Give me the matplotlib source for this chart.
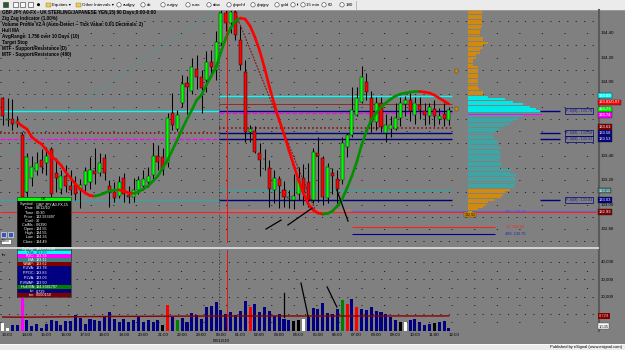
import matplotlib
matplotlib.use("Agg")
import matplotlib.pyplot as plt
import matplotlib.transforms as mtransforms
from matplotlib.collections import LineCollection
from matplotlib.patches import Rectangle, Circle
import numpy as np

plt.rcParams['font.family'] = ['Liberation Sans', 'DejaVu Sans']

# ---------------- data (15-min bars, 12:45 -> 11:45) ----------------
bar_open = [133.87, 133.69, 133.70, 133.66, 133.57, 133.10, 133.22, 133.27, 133.36, 133.34,
            133.45, 133.26, 133.13, 133.23, 133.15, 133.16, 133.12, 133.16, 133.18, 133.27,
            133.26, 133.38, 133.15, 133.10, 133.07, 133.22, 133.08, 133.06, 133.12, 133.15,
            133.18, 133.24, 133.40, 133.39, 133.34, 133.75, 133.62, 133.83, 133.99, 133.93,
            134.11, 134.04, 134.02, 134.16, 134.10, 134.32, 134.56, 134.48, 134.57, 134.34,
            134.08, 133.59, 133.60, 133.42, 133.372, 133.30, 133.12, 133.21, 133.12, 133.05,
            133.04, 133.09, 133.22, 133.18, 133.04, 133.42, 133.38, 133.05, 133.26, 133.21,
            133.20, 133.47, 133.57, 133.73, 133.84, 134.00, 133.87, 133.67, 133.83, 133.58,
            133.62, 133.62, 133.71, 133.82, 133.85, 133.73, 133.81, 133.76, 133.72, 133.78,
            133.70, 133.74, 133.69]
bar_high = [133.88, 133.87, 133.86, 133.72, 133.59, 133.42, 133.40, 133.43, 133.45, 133.47,
            133.47, 133.38, 133.28, 133.32, 133.28, 133.23, 133.21, 133.31, 133.39, 133.46,
            133.42, 133.41, 133.20, 133.18, 133.23, 133.26, 133.15, 133.22, 133.23, 133.28,
            133.31, 133.50, 133.49, 133.46, 133.75, 133.91, 133.77, 134.06, 134.05, 134.20,
            134.22, 134.10, 134.25, 134.26, 134.42, 134.62, 134.59, 134.62, 134.62, 134.46,
            134.18, 133.65, 133.64, 133.50, 133.45, 133.36, 133.28, 133.23, 133.19, 133.12,
            133.25, 133.31, 133.33, 133.34, 133.46, 133.55, 133.40, 133.34, 133.30, 133.28,
            133.55, 133.58, 133.96, 133.96, 134.13, 134.07, 133.93, 133.88, 133.88, 133.74,
            133.72, 133.83, 133.88, 133.89, 133.91, 133.88, 133.88, 133.83, 133.83, 133.85,
            133.79, 133.83, 133.80]
bar_low = [133.65, 133.64, 133.61, 133.63, 133.02, 133.03, 133.15, 133.24, 133.26, 133.24,
           133.06, 133.10, 133.09, 133.10, 133.08, 133.04, 132.97, 133.11, 133.13, 133.17,
           133.23, 133.20, 132.98, 133.02, 133.05, 133.02, 133.01, 133.02, 133.09, 133.12,
           133.14, 133.21, 133.28, 133.24, 133.31, 133.61, 133.60, 133.80, 133.74, 133.90,
           133.94, 133.75, 133.92, 134.06, 134.02, 134.30, 134.42, 134.40, 134.34, 134.10,
           133.51, 133.51, 133.42, 133.23, 133.28, 132.98, 133.01, 132.97, 132.98, 132.97,
           132.96, 133.04, 133.00, 132.98, 133.01, 133.02, 133.00, 133.01, 133.09, 132.98,
           133.17, 133.39, 133.55, 133.72, 133.83, 133.85, 133.59, 133.61, 133.59, 133.51,
           133.55, 133.61, 133.64, 133.72, 133.68, 133.66, 133.70, 133.65, 133.66, 133.64,
           133.66, 133.64, 133.65]
bar_close = [133.72, 133.70, 133.66, 133.68, 133.06, 133.39, 133.31, 133.34, 133.31, 133.40,
             133.09, 133.22, 133.23, 133.15, 133.12, 133.09, 133.16, 133.27, 133.28, 133.25,
             133.34, 133.26, 133.10, 133.05, 133.18, 133.09, 133.06, 133.12, 133.20, 133.21,
             133.23, 133.40, 133.35, 133.28, 133.71, 133.65, 133.73, 133.98, 133.96, 134.12,
             134.04, 133.95, 134.16, 134.12, 134.33, 134.56, 134.48, 134.57, 134.38, 134.14,
             133.59, 133.62, 133.43, 133.36, 133.368, 133.13, 133.22, 133.15, 133.06, 133.06,
             133.07, 133.22, 133.10, 133.04, 133.43, 133.40, 133.06, 133.31, 133.23, 133.13,
             133.50, 133.57, 133.77, 133.87, 134.04, 133.92, 133.67, 133.83, 133.63, 133.65,
             133.65, 133.71, 133.83, 133.85, 133.76, 133.83, 133.77, 133.73, 133.80, 133.72,
             133.72, 133.70, 133.77]
hull_ma = [np.nan, np.nan, np.nan,
           133.673, 133.641, 133.616, 133.551, 133.518, 133.494, 133.445, 133.396, 133.363,
           133.322, 133.265, 133.216, 133.167, 133.127, 133.094, 133.073, 133.069, 133.078,
           133.094, 133.110, 133.118, 133.119, 133.110, 133.094, 133.092, 133.102, 133.127,
           133.151, 133.192, 133.233, 133.298, 133.363, 133.445, 133.527, 133.616, 133.698,
           133.771, 133.853, 133.894, 133.976, 134.049, 134.122, 134.245, 134.359, 134.441,
           134.498, 134.522, 134.514, 134.457, 134.367, 134.253, 134.114, 133.959, 133.820,
           133.690, 133.576, 133.445, 133.322, 133.200, 133.094, 133.004, 132.955, 132.931,
           132.922, 132.927, 132.947, 132.988, 133.045, 133.135, 133.233, 133.347, 133.486,
           133.600, 133.690, 133.747, 133.796, 133.829, 133.861, 133.886, 133.902, 133.910,
           133.918, 133.922, 133.923, 133.918, 133.910, 133.894, 133.869, 133.845, 133.820]
volume = [4600, 1700, 3500, 3500, 19100, 6400, 2900, 4100, 1700, 4100,
          6400, 5800, 3500, 5800, 5800, 9300, 7500, 4100, 7000, 6400,
          5800, 8700, 11000, 7000, 5200, 7000, 5200, 6400, 8100, 5200,
          6400, 5200, 6400, 3500, 15100, 8100, 6400, 7500, 5200, 10400,
          9300, 7000, 13900, 14500, 16800, 12200, 9900, 11000, 9300, 11600,
          17400, 13900, 15700, 11000, 13900, 11600, 8700, 9900, 7000, 6400,
          5800, 6400, 7000, 8100, 13300, 12800, 16200, 10400, 9900, 12800,
          18000, 15700, 18600, 13900, 12800, 12200, 13900, 11600, 11000, 9900,
          8100, 6400, 5200, 5200, 6400, 7000, 5200, 3500, 4100, 4600,
          5200, 5800, 1535]
volume_kind = ("wwnnmnnnnn" "nnnnnnnnnn" "nnnnnnnnnn" "nnnkrngnnn"
               "nnnnnnnnnnn" "rnnnnnnnnk" "kwnnnnnnng" "rnrnnnnnnn"
               "nkwnnnnnkn" "nnw")
vol_avg_bars = [0, 5, 20, 45, 70, 92]
vol_avg_vals = [8100, 8000, 8400, 8700, 8700, 8729]
time_labels = ['13:00', '14:00', '15:00', '16:00', '17:00', '18:00', '19:00', '20:00',
               '21:00', '22:00', '23:00', '00:00', '01:00', '02:00', '03:00', '04:00',
               '05:00', '06:00', '07:00', '08:00', '09:00', '10:00', '11:00', '12:00']

profile_top, profile_step = 134.58, 0.02
profile_volume = [14, 14, 14, 14, 14, 14, 14, 13, 12, 12,
                  12, 15, 15, 20, 15, 15, 12, 12, 8, 8,
                  5, 5, 5, 10, 10, 10, 10, 10, 10, 10,
                  10, 10, 11, 15, 15, 20, 37, 45, 55, 62,
                  68, 72, 73, 55, 50, 45, 42, 37, 32, 28,
                  26, 25, 26, 30, 29, 30, 33, 31, 33, 32,
                  33, 31, 33, 33, 32, 43, 42, 48, 47, 48,
                  48, 47, 46, 42, 37, 35, 33, 27, 20, 18,
                  15, 10, 4]
va_high, poc, va_low = 133.89, 133.745, 133.13

prev_levels = [133.763, 133.584, 133.535, 133.037]
cur_levels = [133.886, 133.820, 133.763, 133.747, 133.624, 133.584, 133.535, 133.118, 133.037]
sr_levels = [133.763, 133.584, 133.535, 133.037]
sr_texts = ['P-S(M) : 133.78', 'P-S(M) : 133.58', 'P-S(M) : 133.53', 'P-S(M) : 133.03']
support_480, support_d, support_480b = 132.939, 132.82, 132.76
target_stops = [134.09, 133.78]
zigzag_up = ([0.5, 45.2], [133.40, 134.62])
zigzag_down = ([47.5, 64.5], [134.61, 132.95])
drawn_segments = [((54.3, 132.80), (57.4, 132.873)),
                  ((58.8, 132.833), (63.8, 132.971)),
                  ((68.9, 133.118), (71.2, 132.865))]
vol_segments = [((58.0, 22000), (58.0, 8100)),
                ((61.5, 27800), (63.0, 8100)),
                ((66.9, 25500), (68.9, 13900))]
cursor_bar = 46.3
session_bar = 44.5
price_ticks = [132.80, 133.00, 133.20, 133.40, 134.00, 134.20, 134.40]
volume_ticks = [20000, 30000, 40000]
axis_labels = [(133.89, '133.89', '#00ffff', 'white'),
               (133.833, '133.83/0.07', '#ff0000', 'white'),
               (133.776, '133.77', '#00ff00', 'white'),
               (133.73, '133.74', '#ff00ff', 'white'),
               (133.633, '133.63', '#800000', 'white'),
               (133.584, '133.58', '#000080', 'white'),
               (133.535, '133.53', '#000080', 'white'),
               (133.114, '133.11', '#408080', 'white'),
               (133.037, '133.03', '#000080', 'white'),
               (132.939, '132.93', '#800000', 'white')]

# ---------------- figure ----------------
W, H = 625, 350
BG = '#808080'
fig = plt.figure(figsize=(6.25, 3.5), dpi=100)
fig.patch.set_facecolor(BG)


def rect(x0, y0, x1, y1):
    return [x0 / W, 1 - y1 / H, (x1 - x0) / W, (y1 - y0) / H]


n = len(bar_open)
xs = np.arange(n)
o = np.array(bar_open); c = np.array(bar_close)
hi = np.array(bar_high); lo = np.array(bar_low)
XL = (-2.7 / 4.85, (597 - 2.7) / 4.85)
FS = 3.2

ax = fig.add_axes(rect(0, 10, 597, 243), zorder=1)
ax.set_facecolor(BG)
ax.set_xlim(*XL)
ax.set_ylim(132.686, 134.588)
ax.axis('off')

# grid
for k, g in enumerate(np.arange(132.70, 134.55, 0.10)):
    dense = (k % 2 == 0)
    ax.axhline(g, color='#222222', lw=0.7,
               dashes=(1.2, 7.5) if dense else (1.2, 22), zorder=1)
ax.axvline(session_bar, color='#3a3a3a', lw=0.6, dashes=(2, 2), zorder=1)

# previous session levels
pl_style = [('#00ffff', '-', 1.0), ('#8b0000', ':', 1.1), ('#ff00ff', '--', 0.9), ('#40a0a0', '-', 1.0)]
for lev, (col, ls, lw) in zip(prev_levels, pl_style):
    ax.hlines(lev, XL[0], session_bar, colors=col, linestyles=ls, lw=lw, zorder=2)
cl_style = [('#00ffff', '-', 1.0), ('#8b2020', '-', 0.6), ('#000080', '-', 1.0),
            ('#ff00ff', '--', 0.9), ('#8b0000', ':', 1.1), ('#000080', '-', 1.0),
            ('#000080', '-', 1.0), ('#40a0a0', '-', 1.0), ('#000080', '-', 1.0)]
for lev, (col, ls, lw) in zip(cur_levels, cl_style):
    ax.hlines(lev, session_bar, n - 0.4, colors=col, linestyles=ls, lw=lw, zorder=2)

ax.hlines(support_480, XL[0], XL[1], colors='#ff2020', lw=0.8, zorder=2)
ax.hlines(132.955, session_bar, 71.9, colors='#a07a7a', lw=2.2, zorder=2)
ax.hlines(132.948, 71.9, XL[1], colors='#7060c0', lw=0.8, zorder=2)
ax.hlines(support_d, 72.0, 101.5, colors='#ff2020', lw=0.8, zorder=2)
ax.hlines(support_480b, 72.0, 101.5, colors='#000090', lw=0.8, zorder=2)
for lev in sr_levels:
    ax.hlines(lev, 110.8, 114.9, colors='#000080', lw=1.0, zorder=2)

# zigzag
ax.plot(*zigzag_up, color='#3aa0a0', lw=0.8, ls=':', zorder=3)
ax.plot(*zigzag_down, color='#8b1a1a', lw=0.9, dashes=(1.5, 1.0), zorder=3)

# candles
ax.vlines(xs, lo, hi, color='black', lw=0.75, zorder=4)
up = c >= o
ax.bar(xs, np.maximum(np.abs(c - o), 0.006), bottom=np.minimum(o, c), width=0.62,
       color=np.where(up, '#00ff00', '#ff0000'), edgecolor='black', lw=0.3, zorder=5)

# hull ma
hm = np.array(hull_ma)
pts = np.column_stack([xs, hm])
segs = np.stack([pts[:-1], pts[1:]], axis=1)
valid = ~np.isnan(segs).any(axis=(1, 2))
segs = segs[valid]
cols = np.where(segs[:, 1, 1] >= segs[:, 0, 1], '#009000', '#ff0000')
ax.add_collection(LineCollection(segs, colors=cols, lw=1.9, zorder=6, capstyle='round'))

for (a, b) in drawn_segments:
    ax.plot([a[0], b[0]], [a[1], b[1]], color='black', lw=0.9, zorder=6)

ax.axvline(cursor_bar, color='#ff0000', lw=0.6, zorder=7)

# target stop markers
ax.bar([93.6] * len(target_stops), [0.04] * len(target_stops),
       bottom=np.array(target_stops) - 0.02, width=0.6, color='#d08a10',
       edgecolor='#604000', lw=0.3, zorder=6)
ax.text(96.4, 132.915, '132.92', fontsize=2.6, color='black', ha='center', va='center', zorder=8,
        bbox=dict(boxstyle='square,pad=0.15', fc='#d08a10', ec='#604000', lw=0.3))
ax.text(103.5, support_480, '480: 132.93', fontsize=2.8, color='#5050c0', va='center', zorder=8)
ax.text(104.0, support_d, 'D: 132.82', fontsize=2.8, color='#ff2020', va='center', zorder=8)
ax.text(103.5, support_480b, '480: 132.75', fontsize=2.8, color='#2020b0', va='center', zorder=8)

# volume profile
pax = fig.add_axes(rect(468, 10, 597, 243), zorder=2)
pax.set_xlim(0, 129)
pax.set_ylim(132.686, 134.588)
pax.axis('off')
pax.patch.set_alpha(0)
pprices = profile_top - profile_step * np.arange(len(profile_volume))
pcols = []
for p in pprices:
    if p > va_high + 1e-6 or p < va_low - 1e-6:
        pcols.append('#d08a10')
    elif p >= poc - 1e-6:
        pcols.append('#00e8e8')
    else:
        pcols.append('#40a4a4')
pax.barh(pprices, profile_volume, height=profile_step * 0.8, color=pcols, lw=0)
pax.barh([poc - 0.008], [max(profile_volume) + 1], height=0.006, color='#ff00ff', lw=0)

# volume panel
vax = fig.add_axes(rect(0, 250, 597, 331), zorder=1)
vax.set_facecolor(BG)
vax.set_xlim(*XL)
vax.set_ylim(0, 46957)
for s in vax.spines.values():
    s.set_visible(False)
vax.set_yticks([])
for g in [5000, 10000, 15000, 20000, 25000, 30000, 35000, 40000]:
    vax.axhline(g, color='#222222', lw=0.7,
                dashes=(1.2, 7.5) if g % 10000 == 0 else (1.2, 22), zorder=1)
vax.axvline(session_bar, color='#3a3a3a', lw=0.6, dashes=(2, 2), zorder=1)
kind_col = {'n': '#000080', 'w': '#ffffff', 'k': '#000000', 'r': '#ff0000',
            'g': '#008000', 'm': '#ff00ff'}
vax.bar(xs, volume, width=0.62, color=[kind_col[k] for k in volume_kind], lw=0, zorder=3)
vax.plot(vol_avg_bars, vol_avg_vals, color='#8b0000', lw=1.0, zorder=4)
for (a, b) in vol_segments:
    vax.plot([a[0], b[0]], [a[1], b[1]], color='black', lw=0.9, zorder=5)
vax.axvline(cursor_bar, color='#ff0000', lw=0.6, zorder=6)
vax.set_xticks(np.arange(1, n + 1, 4))
vax.set_xticklabels(time_labels, fontsize=FS)
vax.tick_params(axis='x', length=0, pad=1.2, colors='black')

# ---------------- overlay UI ----------------
ov = fig.add_axes([0, 0, 1, 1], zorder=10)
ov.set_xlim(0, W)
ov.set_ylim(H, 0)
ov.axis('off')
ov.patch.set_alpha(0)
tr_p = mtransforms.blended_transform_factory(ov.transData, ax.transData)
tr_v = mtransforms.blended_transform_factory(ov.transData, vax.transData)
tr_x = mtransforms.blended_transform_factory(vax.transData, ov.transData)

# toolbar
ov.add_patch(Rectangle((0, 0), W, 9.5, fc='#ebebeb', ec='none'))
ov.plot([0, W], [9.6, 9.6], color='#a0a0a0', lw=0.6)
for x0, fc in [(3, '#2a5a2a'), (13, '#f8f8f8'), (20, '#f8f8f8'), (28, '#f8f8f8')]:
    ov.add_patch(Rectangle((x0, 2.2), 5, 5, fc=fc, ec='#303030', lw=0.4))
ov.add_patch(Circle((38.5, 4.7), 1.5, fc='black', ec='none'))
for x0, lab in [(46, 'Equities \u25be'), (76, 'Other Intervals \u25be')]:
    ov.add_patch(Rectangle((x0, 2.5), 4.5, 4.3, fc='#f0cc50', ec='#8a7020', lw=0.3))
    ov.text(x0 + 6, 4.8, lab, fontsize=FS, va='center', color='black')
for cx, lab in [(119, 'audjpy'), (143, 'dx'), (163, 'eurjpy'), (188, 'euro'), (209, 'dow'),
                (229, 'gbpchf'), (253, 'gbpjpy'), (277, 'gold'), (293, 'fi'),
                (303, '15 min'), (324, '60'), (342, '180')]:
    ov.add_patch(Circle((cx, 4.8), 2.2, fc='#f8f8f8', ec='#404040', lw=0.4))
    ov.text(cx + 3.5, 4.8, lab, fontsize=FS, va='center', color='black')
ov.plot([356, 356], [1, 8.5], color='#b0b0b0', lw=0.6)

# legend text
legend_lines = ['GBP JPY A0-FX - UK STERLING/JAPANESE YEN,15) 90 Days;0:00-0:00',
                'Zig Zag Indicator (1.00%)',
                'Volume Profile V2.4 (Auto-Detect -- Tick Value: 0.01 Decimals: 2)',
                'Hull MA',
                'AvgRange: 1.756 over 10 Days (10)',
                'Target Stop',
                'MTF - Support/Resistance (D)',
                'MTF - Support/Resistance (480)']
for k, t in enumerate(legend_lines):
    ov.text(1.5, 12.7 + 5.95 * k, t, fontsize=3.3, fontweight='bold', va='center', color='black')

# right axis strip
ov.plot([598.8, 598.8], [10, 331], color='#5a5a5a', lw=1.5)
ov.plot([0, 597.5], [248.3, 248.3], color='#d4d4d4', lw=1.4)
for p in price_ticks:
    ov.text(600.5, p, f'{p:.2f}', transform=tr_p, fontsize=FS, va='center', color='black')
for p, t, fc, tc in axis_labels:
    ov.text(598.5, p, t, transform=tr_p, fontsize=3.0, va='center', color=tc,
            bbox=dict(boxstyle='square,pad=0.2', fc=fc, ec='#202020', lw=0.3))
for p, t in zip(sr_levels, sr_texts):
    ov.text(566, p, t, transform=tr_p, fontsize=2.7, va='center', color='#202080',
            bbox=dict(boxstyle='square,pad=0.2', fc='none', ec='#000080', lw=0.5))
for v in volume_ticks:
    ov.text(600.5, v, f'{v:,}', transform=tr_v, fontsize=FS, va='center', color='black')
ov.text(598.5, vol_avg_vals[-1], f'{vol_avg_vals[-1]:,}', transform=tr_v, fontsize=3.0,
        va='center', color='#ffb0b0', bbox=dict(boxstyle='square,pad=0.2', fc='#800000', ec='none'))
ov.text(598.5, volume[-1] + 1200, f'{volume[-1]:,}', transform=tr_v, fontsize=3.0,
        va='center', color='black', bbox=dict(boxstyle='square,pad=0.2', fc='white', ec='#404040', lw=0.3))
ov.text(1.5, 255, 'tiv', fontsize=FS, va='center', color='black')
ov.text(45, 341.2, '08/12/10', transform=tr_x, fontsize=FS, ha='center', va='center', color='black')

# bottom bar
ov.add_patch(Rectangle((0, 343.5), W, 6.5, fc='#ebebeb', ec='none'))
ov.plot([0, W], [343.5, 343.5], color='#ffffff', lw=0.6)
ov.text(622, 346.8, 'Published by eSignal (www.esignal.com)', fontsize=2.9, ha='right',
        va='center', color='black')

# left small buttons
ov.add_patch(Rectangle((1, 231.5), 5, 5, fc='#3858b0', ec='white', lw=0.4))
ov.add_patch(Rectangle((7.5, 231.5), 5, 5, fc='#3858b0', ec='white', lw=0.4))
ov.add_patch(Rectangle((1, 238.5), 10, 5, fc='white', ec='#404040', lw=0.4))
ov.text(6, 241, 'Menu', fontsize=2.2, ha='center', va='center', color='black')

# info panel
px0, px1 = 17, 71
ov.add_patch(Rectangle((px0, 196.8), px1 - px0, 4.2, fc='#00ff00', ec='none'))
ov.text((px0 + px1) / 2, 199, 'OK', fontsize=2.8, ha='center', va='center', color='black')
ov.add_patch(Rectangle((px0, 201), px1 - px0, 46, fc='black', ec='none'))
info_rows = [('Symbol', 'GBP JPY A0-FX,15'), ('Date', '08/12/10'), ('Time', '00:30'),
             ('Price', '132.933497'), ('Cur#', '30'), ('CalMs', '0.6390'), ('Open', '134.55'),
             ('High', '134.55'), ('Low', '134.36'), ('Close', '134.49')]
for k, (a, b) in enumerate(info_rows):
    yy = 204.3 + 4.15 * k
    ov.text(35, yy, a + ' :', fontsize=2.7, ha='right', va='center', color='white')
    ov.text(36, yy, b, fontsize=2.7, ha='left', va='center', color='white')
color_rows = [('ZigZag', '134.873140', '#408080', 'white', 4.0),
              ('UVA', '133.89', '#00ffff', '#205050', 3.3),
              ('POC', '133.74', '#ff00ff', 'white', 3.7),
              ('LVA', '133.11', '#408080', 'white', 4.0),
              ('VWAP', '133.62', '#800000', 'white', 4.0),
              ('P-UVA', '133.78', '#000080', 'white', 4.8),
              ('P-POC', '133.83', '#000080', 'white', 4.8),
              ('P-LVA', '133.03', '#000080', 'white', 4.8),
              ('P-VWAP', '133.50', '#000080', 'white', 4.8),
              ('Hull MA', '134.2681797', '#008000', 'white', 4.0),
              ('tiv', '8,729', '#000080', 'white', 3.7),
              ('tov', '0.000150', '#800000', 'white', 4.0)]
yy = 247
for a, b, fc, tc, h in color_rows:
    ov.add_patch(Rectangle((px0, yy), px1 - px0, h, fc=fc, ec='none'))
    ov.text(35, yy + h / 2, a + ':', fontsize=2.7, ha='right', va='center', color=tc)
    ov.text(36, yy + h / 2, b, fontsize=2.7, ha='left', va='center', color=tc)
    yy += h
ov.add_patch(Rectangle((px0, 196.8), px1 - px0, yy - 196.8, fc='none', ec='#303030', lw=0.5))

fig.savefig('out.png', dpi=100, facecolor=BG)
